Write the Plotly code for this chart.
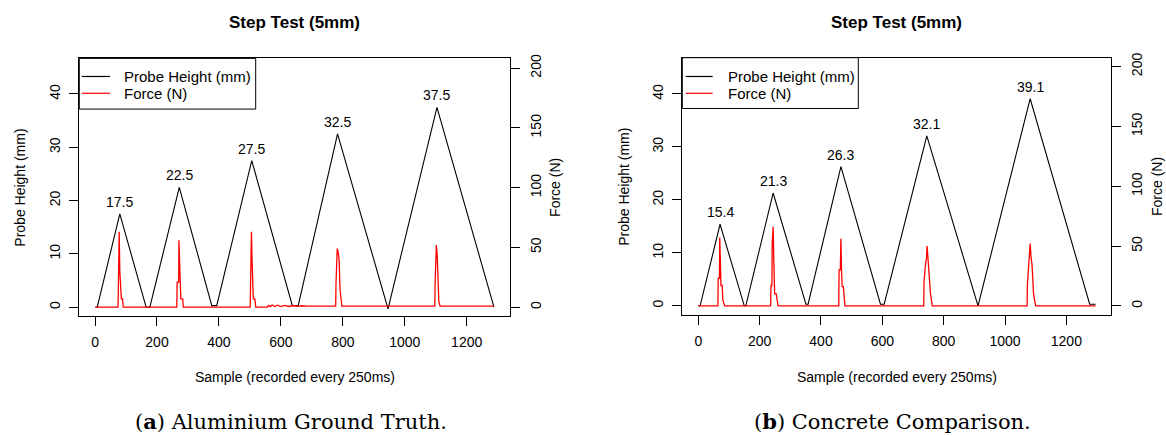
import plotly.graph_objects as go
from plotly.subplots import make_subplots

# ---------------- data ----------------
# (a) Aluminium ground truth
al_height_x = [1, 7, 80, 165, 177, 272, 377, 393, 506, 637, 656, 783, 946, 1104, 1288]
al_height_y = [0, 0, 17.5, 0, 0, 22.5, 0.3, 0.3, 27.5, 0.3, 0.3, 32.5, -0.3, 37.5, 0]
al_force_x = [1, 74, 75, 77, 78, 80, 82, 85, 89, 91,
              264, 265, 270, 271, 273, 275, 277, 283, 285,
              501, 502, 504, 505, 507, 509, 511, 516, 519,
              556, 560, 566, 572, 580, 590, 600, 612, 625, 640, 655, 668, 683,
              776, 777, 778, 780, 782, 785, 788, 791, 794, 797,
              1096, 1097, 1098, 1100, 1102, 1105, 1108, 1110, 1114, 1288]
al_force_y = [0, 0, 10, 45, 63, 30, 18, 7, 7, 0,
              0, 21, 21, 56, 38, 20, 7, 7, 0,
              0, 24, 24, 63, 40, 24, 7, 7, 0,
              0, 1.5, 0.5, 1.8, 0.5, 1.6, 0.5, 1.5, 0.6, 1.4, 0.6, 1.2, 0.8,
              0.8, 0.8, 20, 40, 49, 46, 40, 15, 5, 0.8,
              0.8, 0.8, 20, 42, 52, 42, 20, 5, 0.8, 0.8]
al_peak_x = [80, 272, 506, 783, 1104]
al_peak_y = [17.5, 22.5, 27.5, 32.5, 37.5]

# (b) Concrete comparison
co_height_x = [0, 6, 71, 150, 155, 244, 351, 358, 465, 594, 606, 745, 912, 1082, 1276, 1295]
co_height_y = [0, 0, 15.4, 0, 0, 21.3, 0.3, 0.3, 26.3, 0.3, 0.3, 32.1, 0, 39.1, 0.3, 0.3]
co_force_x = [0, 64, 65, 69, 70, 72, 74, 78, 80, 86,
              236, 237, 240, 241, 244, 246, 249, 254, 260,
              458, 459, 463, 465, 467, 469, 473, 478,
              735, 736, 740, 744, 746, 749, 752, 757, 763,
              1072, 1073, 1077, 1080, 1082, 1085, 1088, 1093, 1100, 1295]
co_force_y = [0, 0, 23, 23, 57, 28, 17, 17, 5, 0,
              0, 17, 17, 52, 66, 40, 10, 10, 0,
              0, 30, 30, 56, 30, 16, 16, 0,
              0, 20, 33, 40, 50, 40, 33, 10, 0,
              0, 18, 35, 45, 52, 40, 35, 10, 0, 0]
co_peak_x = [71, 244, 465, 745, 1082]
co_peak_y = [15.4, 21.3, 26.3, 32.1, 39.1]

x_ticks = [0, 200, 400, 600, 800, 1000, 1200]
height_ticks = [0, 10, 20, 30, 40]
force_ticks = [0, 50, 100, 150, 200]

title_text = "Step Test (5mm)"
x_title = "Sample (recorded every 250ms)"
y_title = "Probe Height (mm)"
y2_title = "Force (N)"
series_names = [y_title, y2_title]
series_colors = ["#000000", "#ff0000"]
captions = ["(<b>a</b>) Aluminium Ground Truth.", "(<b>b</b>) Concrete Comparison."]

# ---------------- layout helpers ----------------
W, H = 1166, 436
SANS = "Liberation Sans, Arial, sans-serif"
SERIF = "DejaVu Serif, serif"


def px_x(v):
    return v / W


def px_y(v):
    return 1 - v / H


panels = [
    dict(left=79.3, right=510.0, top=54.0, bottom=315.0,
         xr=[-50.8, 1339.8], yr=[-1.72, 46.68], y2r=[-7.7, 208.1],
         hx=al_height_x, hy=al_height_y, fx=al_force_x, fy=al_force_y,
         pkx=al_peak_x, pky=al_peak_y,
         leg=dict(x0=79.3, x1=255.7, y0=54.0, y1=105.3, l0=81.7, l1=110.0, t=122.3, rows=[72.3, 89.3])),
    dict(left=682.3, right=1111.0, top=53.3, bottom=314.0,
         xr=[-52.1, 1345.5], yr=[-1.81, 46.85], y2r=[-8.0, 207.4],
         hx=co_height_x, hy=co_height_y, fx=co_force_x, fy=co_force_y,
         pkx=co_peak_x, pky=co_peak_y,
         leg=dict(x0=682.3, x1=858.3, y0=53.3, y1=104.7, l0=685.7, l1=712.7, t=725.7, rows=[72.3, 89.3])),
]

fig = make_subplots(rows=1, cols=2, specs=[[{"secondary_y": True}, {"secondary_y": True}]])

annotations = []
shapes = []
for i, p in enumerate(panels):
    col = i + 1
    fig.add_trace(go.Scatter(x=p["hx"], y=p["hy"], mode="lines", name=y_title,
                             line=dict(color=series_colors[0], width=1.1),
                             showlegend=False, hoverinfo="skip"),
                  row=1, col=col, secondary_y=False)
    fig.add_trace(go.Scatter(x=p["fx"], y=p["fy"], mode="lines", name=y2_title,
                             line=dict(color=series_colors[1], width=1.3),
                             showlegend=False, hoverinfo="skip"),
                  row=1, col=col, secondary_y=True)

    xdom = [px_x(p["left"]), px_x(p["right"])]
    ydom = [px_y(p["bottom"]), px_y(p["top"])]
    axis_common = dict(showgrid=False, zeroline=False, showline=True, linecolor="#000000",
                       linewidth=1, ticks="outside", ticklen=9, tickwidth=1, tickcolor="#000000",
                       tickfont=dict(family=SANS, size=14, color="#000000"))
    fig.update_xaxes(row=1, col=col, domain=xdom, range=p["xr"], tickvals=x_ticks,
                     mirror=True, ticklabelstandoff=4, **axis_common)
    fig.update_yaxes(row=1, col=col, secondary_y=False, domain=ydom, range=p["yr"],
                     tickvals=height_ticks, tickangle=-90, ticklabelstandoff=4, **axis_common)
    fig.update_yaxes(row=1, col=col, secondary_y=True, domain=ydom, range=p["y2r"],
                     tickvals=force_ticks, tickangle=-90, ticklabelstandoff=4, **axis_common)

    cx = (p["left"] + p["right"]) / 2
    cy = (p["top"] + p["bottom"]) / 2
    annotations += [
        dict(text="<b>" + title_text + "</b>", x=px_x(cx), y=px_y(18), xref="paper", yref="paper",
             showarrow=False, xanchor="center", yanchor="middle",
             font=dict(family=SANS, size=17, color="#000000")),
        dict(text=x_title, x=px_x(cx), y=px_y(376.5), xref="paper", yref="paper",
             showarrow=False, xanchor="center", yanchor="middle",
             font=dict(family=SANS, size=14, color="#000000")),
        dict(text=y_title, x=px_x(p["left"] - 59), y=px_y(cy), xref="paper", yref="paper",
             showarrow=False, xanchor="center", yanchor="middle", textangle=-90,
             font=dict(family=SANS, size=14, color="#000000")),
        dict(text=y2_title, x=px_x(p["right"] + 45.5), y=px_y(cy), xref="paper", yref="paper",
             showarrow=False, xanchor="center", yanchor="middle", textangle=-90,
             font=dict(family=SANS, size=14, color="#000000")),
        dict(text=captions[i], x=px_x(cx - 4), y=px_y(421.7), xref="paper", yref="paper",
             showarrow=False, xanchor="center", yanchor="middle",
             font=dict(family=SERIF, size=21, color="#000000")),
    ]
    xref = "x" if i == 0 else "x2"
    yref = "y" if i == 0 else "y3"
    for vx, vy in zip(p["pkx"], p["pky"]):
        annotations.append(dict(text=f"{vy}", x=vx, y=vy, xref=xref, yref=yref,
                                showarrow=False, xanchor="center", yanchor="middle", yshift=12,
                                font=dict(family=SANS, size=14, color="#000000")))

    # legend box (R-style) drawn in paper coordinates
    lg = p["leg"]
    shapes.append(dict(type="rect", xref="paper", yref="paper",
                       x0=px_x(lg["x0"]), x1=px_x(lg["x1"]), y0=px_y(lg["y1"]), y1=px_y(lg["y0"]),
                       line=dict(color="#000000", width=1), fillcolor="#ffffff", layer="above"))
    for name, color, ry in zip(series_names, series_colors, lg["rows"]):
        shapes.append(dict(type="line", xref="paper", yref="paper",
                           x0=px_x(lg["l0"]), x1=px_x(lg["l1"]), y0=px_y(ry), y1=px_y(ry),
                           line=dict(color=color, width=1.2), layer="above"))
        annotations.append(dict(text=name, x=px_x(lg["t"]), y=px_y(ry), xref="paper", yref="paper",
                                showarrow=False, xanchor="left", yanchor="middle",
                                font=dict(family=SANS, size=15, color="#000000")))

fig.update_layout(
    width=W, height=H, margin=dict(l=0, r=0, t=0, b=0),
    paper_bgcolor="#ffffff", plot_bgcolor="#ffffff",
    showlegend=False,
    annotations=annotations,
    shapes=shapes,
)

fig.write_html("out.html", config={"displayModeBar": False},
               post_script="document.body.style.margin='0';document.body.style.padding='0';")
